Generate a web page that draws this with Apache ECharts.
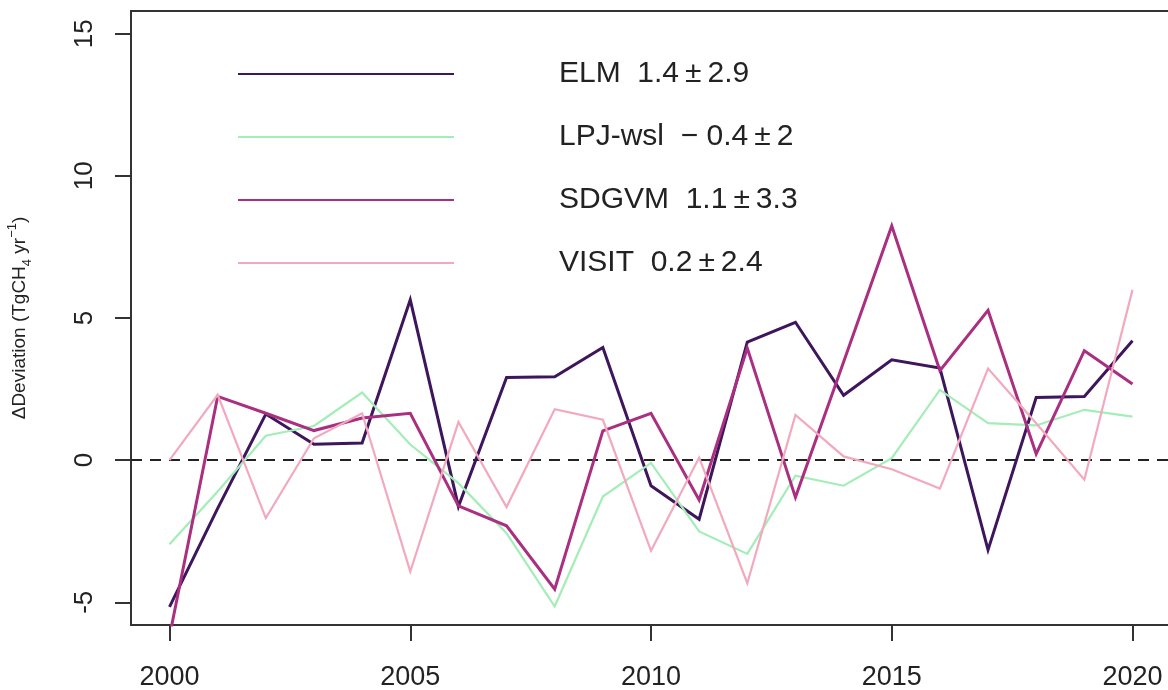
<!DOCTYPE html>
<html>
<head>
<meta charset="utf-8">
<title>Wetland CH4 emission deviation by model</title>
<script src="https://cdn.jsdelivr.net/npm/echarts@6/dist/echarts.min.js"></script>
<style>
  html, body { margin: 0; padding: 0; background: #ffffff; }
  #chart { width: 1168px; height: 690px; }
</style>
</head>
<body>
<div id="chart"></div>
<script>
// Years of the record
const years = [2000, 2001, 2002, 2003, 2004, 2005, 2006, 2007, 2008, 2009, 2010,
               2011, 2012, 2013, 2014, 2015, 2016, 2017, 2018, 2019, 2020];

// Annual deviation per model (TgCH4 yr-1)
const elm   = [-5.16, -1.70, 1.62, 0.56, 0.60, 5.64, -1.63, 2.91, 2.93, 3.96, -0.90,
               -2.08, 4.15, 4.85, 2.28, 3.53, 3.24, -3.16, 2.20, 2.24, 4.20];
const lpj   = [-2.96, -1.10, 0.86, 1.20, 2.38, 0.55, -0.81, -2.57, -5.15, -1.28, -0.10,
               -2.51, -3.30, -0.55, -0.90, 0.07, 2.47, 1.30, 1.22, 1.77, 1.53];
const sdgvm = [-6.20, 2.24, 1.65, 1.04, 1.48, 1.65, -1.61, -2.31, -4.54, 1.03, 1.65,
               -1.40, 3.94, -1.31, 3.45, 8.24, 3.15, 5.27, 0.22, 3.85, 2.68];
const visit = [0.00, 2.30, -2.04, 0.77, 1.65, -3.92, 1.34, -1.65, 1.79, 1.42, -3.19,
               0.09, -4.33, 1.59, 0.13, -0.32, -1.00, 3.22, 1.30, -0.69, 5.99];

// Model names and their summary statistics (mean ± sd)
const modelNames = ['ELM', 'LPJ-wsl', 'SDGVM', 'VISIT'];
const modelMeans = [1.4, -0.4, 1.1, 0.2];
const modelSds   = [2.9, 2, 3.3, 2.4];

// Tick values
const xTicks = [2000, 2005, 2010, 2015, 2020];
const yTicks = [-5, 0, 5, 10, 15];

const colors = ['#3e165c', '#a3edb7', '#aa2f80', '#f3a9bd'];
const widths = [3, 2.2, 3, 2.2];
const seriesValues = [elm, lpj, sdgvm, visit];
const FONT = 'Liberation Sans, Arial, sans-serif';

function fmtMean(v) {
  return v < 0 ? '\u2212 ' + Math.abs(v) : String(v);
}

const series = modelNames.map((name, i) => ({
  name: name,
  type: 'line',
  data: years.map((y, k) => [y, seriesValues[i][k]]),
  symbol: 'none',
  clip: true,
  lineStyle: { color: colors[i], width: widths[i], join: 'miter' },
  itemStyle: { color: colors[i] },
  z: 3
}));

// Zero reference line
series[0].markLine = {
  silent: true,
  symbol: 'none',
  label: { show: false },
  lineStyle: { type: [11, 8], color: '#222', width: 2 },
  data: [{ yAxis: 0 }],
  z: 2
};

const chart = echarts.init(document.getElementById('chart'), null, { renderer: 'canvas' });

chart.setOption({
  backgroundColor: '#ffffff',
  animation: false,
  textStyle: { fontFamily: FONT },
  grid: {
    left: 131, top: 11, width: 1040, height: 614,
    show: true, borderColor: '#333', borderWidth: 2, backgroundColor: 'transparent',
    containLabel: false, outerBoundsMode: 'none'
  },
  legend: {
    orient: 'vertical',
    left: 237, top: 59,
    padding: 0,
    itemWidth: 216, itemHeight: 14,
    itemGap: 33,
    selectedMode: false,
    data: modelNames,
    itemStyle: { color: 'rgba(0,0,0,0)', borderWidth: 0 },
    formatter: function (name) {
      const i = modelNames.indexOf(name);
      return name + '  ' + fmtMean(modelMeans[i]) + '\u2009\u00b1\u2009' + modelSds[i];
    },
    textStyle: {
      fontFamily: FONT,
      fontSize: 30, color: '#222', lineHeight: 30,
      padding: [0, 0, 0, 100]
    }
  },
  xAxis: {
    type: 'value',
    min: 1999.2, max: 2020.8,
    axisLine: { show: false, onZero: false },
    splitLine: { show: false },
    axisTick: {
      show: true, inside: false, length: 16,
      customValues: xTicks,
      lineStyle: { color: '#333', width: 2 }
    },
    axisLabel: {
      customValues: xTicks,
      formatter: function (v) { return String(v); },
      fontSize: 27, color: '#222', margin: 39,
      fontFamily: FONT
    }
  },
  yAxis: {
    type: 'value',
    min: -5.8, max: 15.8,
    axisLine: { show: false, onZero: false },
    splitLine: { show: false },
    axisTick: {
      show: true, inside: false, length: 16,
      customValues: yTicks,
      lineStyle: { color: '#333', width: 2 }
    },
    axisLabel: {
      customValues: yTicks,
      formatter: function (v) { return String(v); },
      rotate: 90,
      fontSize: 26, color: '#222', margin: 33,
      fontFamily: FONT
    },
    name: '{a|\u0394Deviation (TgCH}{sub|4}{a| yr}{sup|\u22121}{a|)}',
    nameLocation: 'middle',
    nameRotate: 90,
    nameGap: 97,
    nameTextStyle: {
      color: '#222',
      rich: {
        a: { fontSize: 19, lineHeight: 28, color: '#222', fontFamily: FONT, verticalAlign: 'middle' },
        sub: { fontSize: 13, lineHeight: 13, color: '#222', fontFamily: FONT, verticalAlign: 'bottom' },
        sup: { fontSize: 13, lineHeight: 13, color: '#222', fontFamily: FONT, verticalAlign: 'top' }
      }
    }
  },
  series: series
});
</script>
</body>
</html>
